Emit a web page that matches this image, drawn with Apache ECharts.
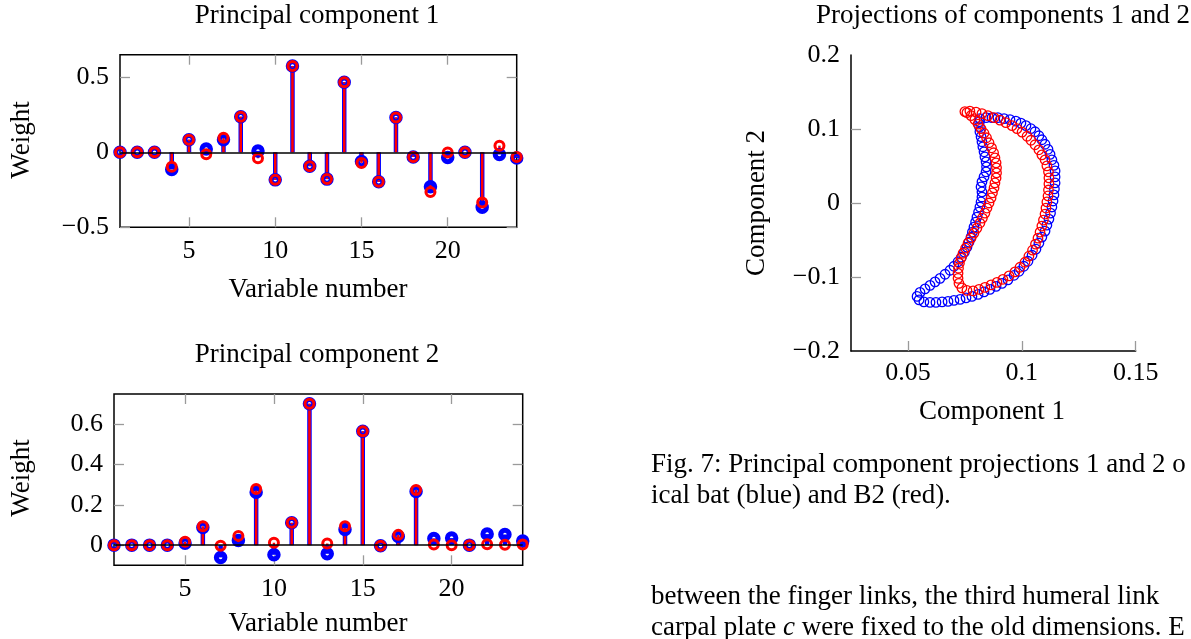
<!DOCTYPE html>
<html>
<head>
<meta charset="utf-8">
<script src="https://cdn.jsdelivr.net/npm/echarts@6/dist/echarts.min.js"></script>
<style>
html, body { margin: 0; padding: 0; background: #fff; }
#main { width: 1191px; height: 639px; }
</style>
</head>
<body>
<div id="main"></div>
<script>
// variable numbers (x of the stem plots)
var varNo = [1, 2, 3, 4, 5, 6, 7, 8, 9, 10, 11, 12, 13, 14, 15, 16, 17, 18, 19, 20, 21, 22, 23, 24];
// principal component 1 weights
var pc1Blue = [0, 0, 0, -0.115, 0.084, 0.022, 0.084, 0.237, 0.009, -0.184, 0.575, -0.093, -0.179, 0.467, -0.062, -0.197, 0.232, -0.031, -0.230, -0.035, 0, -0.367, -0.015, -0.038];
var pc1Red = [0, 0, 0, -0.097, 0.084, -0.013, 0.097, 0.237, -0.040, -0.184, 0.575, -0.093, -0.179, 0.467, -0.071, -0.197, 0.232, -0.031, -0.265, -0.002, 0, -0.334, 0.044, -0.031];
// principal component 2 weights
var pc2Blue = [0, 0, 0, 0, 0.010, 0.088, -0.061, 0.023, 0.263, -0.048, 0.111, 0.702, -0.043, 0.078, 0.565, -0.003, 0.043, 0.266, 0.033, 0.035, 0, 0.055, 0.053, 0.020];
var pc2Red = [0, 0, 0, 0, 0.017, 0.094, -0.003, 0.046, 0.279, 0.012, 0.111, 0.702, 0.008, 0.094, 0.565, -0.003, 0.051, 0.274, 0.003, 0, 0, 0.005, 0.002, 0.003];

// tick values
var varTicks = [5, 10, 15, 20];
var pc1Ticks = [-0.5, 0, 0.5];
var pc2Ticks = [0, 0.2, 0.4, 0.6];
var projXTicks = [0.05, 0.1, 0.15];
var projYTicks = [-0.2, -0.1, 0, 0.1, 0.2];
var projYMinor = [-0.1, 0, 0.1];

// projections of components 1 and 2 (component 1, component 2)
var bluePath = [
  [0.0816, 0.1140], [0.0843, 0.1153], [0.0869, 0.1153], [0.0895, 0.1153], [0.0922, 0.1140], [0.0948, 0.1126],
  [0.0974, 0.1106], [0.0996, 0.1079], [0.1018, 0.1045], [0.1040, 0.1004], [0.1058, 0.0963], [0.1075, 0.0909],
  [0.1088, 0.0855], [0.1102, 0.0794], [0.1115, 0.0726], [0.1124, 0.0658], [0.1132, 0.0584], [0.1141, 0.0509],
  [0.1146, 0.0434], [0.1146, 0.0353], [0.1146, 0.0271], [0.1143, 0.0190], [0.1141, 0.0109], [0.1137, 0.0027],
  [0.1132, -0.0054], [0.1126, -0.0136], [0.1119, -0.0217], [0.1110, -0.0299], [0.1102, -0.0380], [0.1088, -0.0461],
  [0.1075, -0.0543], [0.1062, -0.0624], [0.1045, -0.0706], [0.1027, -0.0787], [0.1009, -0.0855], [0.0988, -0.0923],
  [0.0966, -0.0977], [0.0939, -0.1038], [0.0913, -0.1086], [0.0887, -0.1126], [0.0860, -0.1167], [0.0834, -0.1201],
  [0.0808, -0.1235], [0.0781, -0.1262], [0.0755, -0.1282], [0.0729, -0.1303], [0.0702, -0.1316], [0.0676, -0.1330],
  [0.0650, -0.1337], [0.0623, -0.1343], [0.0597, -0.1343], [0.0570, -0.1337], [0.0549, -0.1310], [0.0540, -0.1262],
  [0.0553, -0.1208], [0.0575, -0.1160], [0.0597, -0.1113], [0.0619, -0.1065], [0.0641, -0.1018], [0.0663, -0.0963],
  [0.0685, -0.0909], [0.0702, -0.0855], [0.0720, -0.0794], [0.0735, -0.0733], [0.0748, -0.0665], [0.0759, -0.0597],
  [0.0768, -0.0529], [0.0777, -0.0461], [0.0783, -0.0394], [0.0790, -0.0326], [0.0797, -0.0258], [0.0803, -0.0190],
  [0.0810, -0.0122], [0.0816, -0.0054], [0.0821, 0.0014], [0.0825, 0.0081], [0.0825, 0.0149], [0.0821, 0.0217],
  [0.0825, 0.0285], [0.0834, 0.0353], [0.0843, 0.0421], [0.0845, 0.0489], [0.0843, 0.0556], [0.0838, 0.0624],
  [0.0834, 0.0692], [0.0829, 0.0760], [0.0825, 0.0828], [0.0821, 0.0896], [0.0816, 0.0963], [0.0814, 0.1031],
  [0.0814, 0.1099]
];
var redPath = [
  [0.0750, 0.1235], [0.0772, 0.1242], [0.0799, 0.1228], [0.0825, 0.1208], [0.0851, 0.1181], [0.0878, 0.1153],
  [0.0904, 0.1120], [0.0930, 0.1086], [0.0957, 0.1045], [0.0979, 0.1004], [0.1001, 0.0957], [0.1023, 0.0902],
  [0.1040, 0.0848], [0.1058, 0.0787], [0.1075, 0.0719], [0.1088, 0.0651], [0.1102, 0.0584], [0.1110, 0.0502],
  [0.1117, 0.0421], [0.1119, 0.0339], [0.1119, 0.0258], [0.1117, 0.0176], [0.1115, 0.0095], [0.1110, 0.0014],
  [0.1106, -0.0068], [0.1102, -0.0149], [0.1095, -0.0231], [0.1088, -0.0312], [0.1080, -0.0394], [0.1071, -0.0475],
  [0.1060, -0.0556], [0.1047, -0.0638], [0.1031, -0.0719], [0.1014, -0.0801], [0.0992, -0.0868], [0.0970, -0.0930],
  [0.0944, -0.0984], [0.0917, -0.1031], [0.0891, -0.1072], [0.0865, -0.1106], [0.0838, -0.1140], [0.0812, -0.1167],
  [0.0786, -0.1187], [0.0759, -0.1181], [0.0737, -0.1147], [0.0724, -0.1086], [0.0720, -0.1018], [0.0720, -0.0950],
  [0.0722, -0.0882], [0.0726, -0.0814], [0.0733, -0.0746], [0.0742, -0.0679], [0.0753, -0.0611], [0.0764, -0.0543],
  [0.0777, -0.0475], [0.0790, -0.0407], [0.0803, -0.0339], [0.0816, -0.0271], [0.0827, -0.0204], [0.0838, -0.0136],
  [0.0847, -0.0068], [0.0856, 0], [0.0865, 0.0068], [0.0871, 0.0136], [0.0878, 0.0204], [0.0882, 0.0271],
  [0.0887, 0.0339], [0.0889, 0.0407], [0.0889, 0.0475], [0.0887, 0.0543], [0.0882, 0.0611], [0.0876, 0.0679],
  [0.0867, 0.0746], [0.0856, 0.0814], [0.0845, 0.0882], [0.0834, 0.0943], [0.0821, 0.1004], [0.0808, 0.1065],
  [0.0794, 0.1126], [0.0777, 0.1181], [0.0759, 0.1221]
];

var serif = 'Liberation Serif';
var blue = '#0000ff';
var red = '#ff0000';
var tickGrey = '#9a9a9a';

function minusFmt(v) {
  return String(+(+v).toFixed(3)).replace('-', '\u2212');
}

function pairs(xs, ys) {
  return xs.map(function (x, i) { return [x, ys[i]]; });
}

// stem: line from (x, 0) to (x, y)
function stemSeries(xi, yi, xs, ys, color, width) {
  return {
    type: 'custom',
    xAxisIndex: xi,
    yAxisIndex: yi,
    silent: true,
    encode: { x: 0, y: 1 },
    data: pairs(xs, ys),
    renderItem: function (params, api) {
      var p0 = api.coord([api.value(0), 0]);
      var p1 = api.coord([api.value(0), api.value(1)]);
      return {
        type: 'line',
        shape: { x1: p0[0], y1: p0[1], x2: p1[0], y2: p1[1] },
        style: { stroke: color, lineWidth: width }
      };
    }
  };
}

function markSeries(xi, yi, data, color, size, bw, zero) {
  var s = {
    type: 'scatter',
    xAxisIndex: xi,
    yAxisIndex: yi,
    silent: true,
    symbol: 'circle',
    symbolSize: size,
    data: data,
    itemStyle: { color: 'rgba(0,0,0,0)', borderColor: color, borderWidth: bw, opacity: 1 }
  };
  if (zero) {
    s.markLine = {
      silent: true,
      symbol: 'none',
      label: { show: false },
      lineStyle: { color: '#000', width: 1.5, type: 'solid' },
      data: [{ yAxis: 0 }]
    };
  }
  return s;
}

function xAx(grid, pos, min, max, ticks, labels) {
  return {
    type: 'value', gridIndex: grid, position: pos, min: min, max: max,
    axisLine: { show: false, onZero: false },
    splitLine: { show: false },
    axisTick: { show: true, inside: true, length: 10, customValues: ticks, lineStyle: { color: tickGrey, width: 1.3 } },
    axisLabel: { show: labels, customValues: ticks, margin: 11, fontFamily: serif, fontSize: 26, color: '#000', formatter: minusFmt }
  };
}

function yAx(grid, pos, min, max, ticks, labels) {
  return {
    type: 'value', gridIndex: grid, position: pos, min: min, max: max,
    axisLine: { show: false, onZero: false },
    splitLine: { show: false },
    axisTick: { show: true, inside: true, length: 10, customValues: ticks, lineStyle: { color: tickGrey, width: 1.3 } },
    axisLabel: { show: labels, customValues: ticks, margin: 11, fontFamily: serif, fontSize: 26, color: '#000', formatter: minusFmt }
  };
}

function txt(x, y, text, extra) {
  var t = {
    type: 'text', x: x, y: y, silent: true,
    style: { text: text, fontFamily: serif, fontSize: 27, fill: '#000', align: 'center', verticalAlign: 'middle' }
  };
  if (extra) {
    for (var k in extra) { t[k] = extra[k]; }
  }
  return t;
}

function line(x, y, text) {
  return {
    type: 'text', x: x, y: y, silent: true,
    style: {
      text: text, fontFamily: serif, fontSize: 27, fill: '#000', align: 'left', verticalAlign: 'middle',
      rich: { i: { fontStyle: 'italic', fontFamily: serif, fontSize: 27 } }
    }
  };
}

var myChart = echarts.init(document.getElementById('main'));

var projX = {
  type: 'value', gridIndex: 2, position: 'bottom', min: 0.025, max: 0.15,
  axisLine: { show: true, onZero: false, lineStyle: { color: '#000', width: 1.5 } },
  splitLine: { show: false },
  axisTick: { show: true, inside: true, length: 10, customValues: projXTicks, lineStyle: { color: tickGrey, width: 1.3 } },
  axisLabel: { customValues: projXTicks, margin: 9, fontFamily: serif, fontSize: 26, color: '#000', formatter: minusFmt }
};
var projY = {
  type: 'value', gridIndex: 2, position: 'left', min: -0.2, max: 0.2,
  axisLine: { show: true, onZero: false, lineStyle: { color: '#000', width: 1.5 } },
  splitLine: { show: false },
  axisTick: { show: true, inside: true, length: 10, customValues: projYMinor, lineStyle: { color: tickGrey, width: 1.3 } },
  axisLabel: { customValues: projYTicks, margin: 11, fontFamily: serif, fontSize: 26, color: '#000', formatter: minusFmt }
};

var option = {
  animation: false,
  backgroundColor: '#fff',
  grid: [
    { left: 120, top: 54.7, width: 396.7, height: 172.6, show: true, borderColor: '#000', borderWidth: 1.5, backgroundColor: 'rgba(0,0,0,0)' },
    { left: 114, top: 394, width: 408.7, height: 171.3, show: true, borderColor: '#000', borderWidth: 1.5, backgroundColor: 'rgba(0,0,0,0)' },
    { left: 851, top: 55, width: 284.7, height: 296 }
  ],
  xAxis: [
    xAx(0, 'bottom', 1, 24, varTicks, true),
    xAx(0, 'top', 1, 24, varTicks, false),
    xAx(1, 'bottom', 1, 24, varTicks, true),
    xAx(1, 'top', 1, 24, varTicks, false),
    projX
  ],
  yAxis: [
    yAx(0, 'left', -0.5, 0.65, pc1Ticks, true),
    yAx(0, 'right', -0.5, 0.65, pc1Ticks, false),
    yAx(1, 'left', -0.1, 0.75, pc2Ticks, true),
    yAx(1, 'right', -0.1, 0.75, pc2Ticks, false),
    projY
  ],
  series: [
    stemSeries(0, 0, varNo, pc1Blue, blue, 4.5),
    markSeries(0, 0, pairs(varNo, pc1Blue), blue, 8.5, 5, true),
    stemSeries(0, 0, varNo, pc1Red, red, 2.5),
    markSeries(0, 0, pairs(varNo, pc1Red), red, 9, 3, false),

    stemSeries(2, 2, varNo, pc2Blue, blue, 4.5),
    markSeries(2, 2, pairs(varNo, pc2Blue), blue, 8.5, 5, true),
    stemSeries(2, 2, varNo, pc2Red, red, 2.5),
    markSeries(2, 2, pairs(varNo, pc2Red), red, 9, 3, false),

    markSeries(4, 4, bluePath, blue, 9.5, 1.3, false),
    markSeries(4, 4, redPath, red, 9.5, 1.3, false)
  ],
  graphic: [
    txt(317, 16, 'Principal component 1'),
    txt(22, 140, 'Weight', { rotation: Math.PI / 2 }),
    txt(318, 290, 'Variable number'),
    txt(317, 355, 'Principal component 2'),
    txt(22, 478, 'Weight', { rotation: Math.PI / 2 }),
    txt(318, 624, 'Variable number'),
    txt(1003, 16, 'Projections of components 1 and 2'),
    txt(757, 203, 'Component 2', { rotation: Math.PI / 2 }),
    txt(992, 412, 'Component 1'),
    line(651, 465, 'Fig. 7: Principal component projections 1 and 2 o'),
    line(651, 496, 'ical bat (blue) and B2 (red).'),
    line(651, 597, 'between the finger links, the third humeral link'),
    line(651, 628, 'carpal plate {i|c} were fixed to the old dimensions. E')
  ]
};

myChart.setOption(option);
</script>
</body>
</html>
